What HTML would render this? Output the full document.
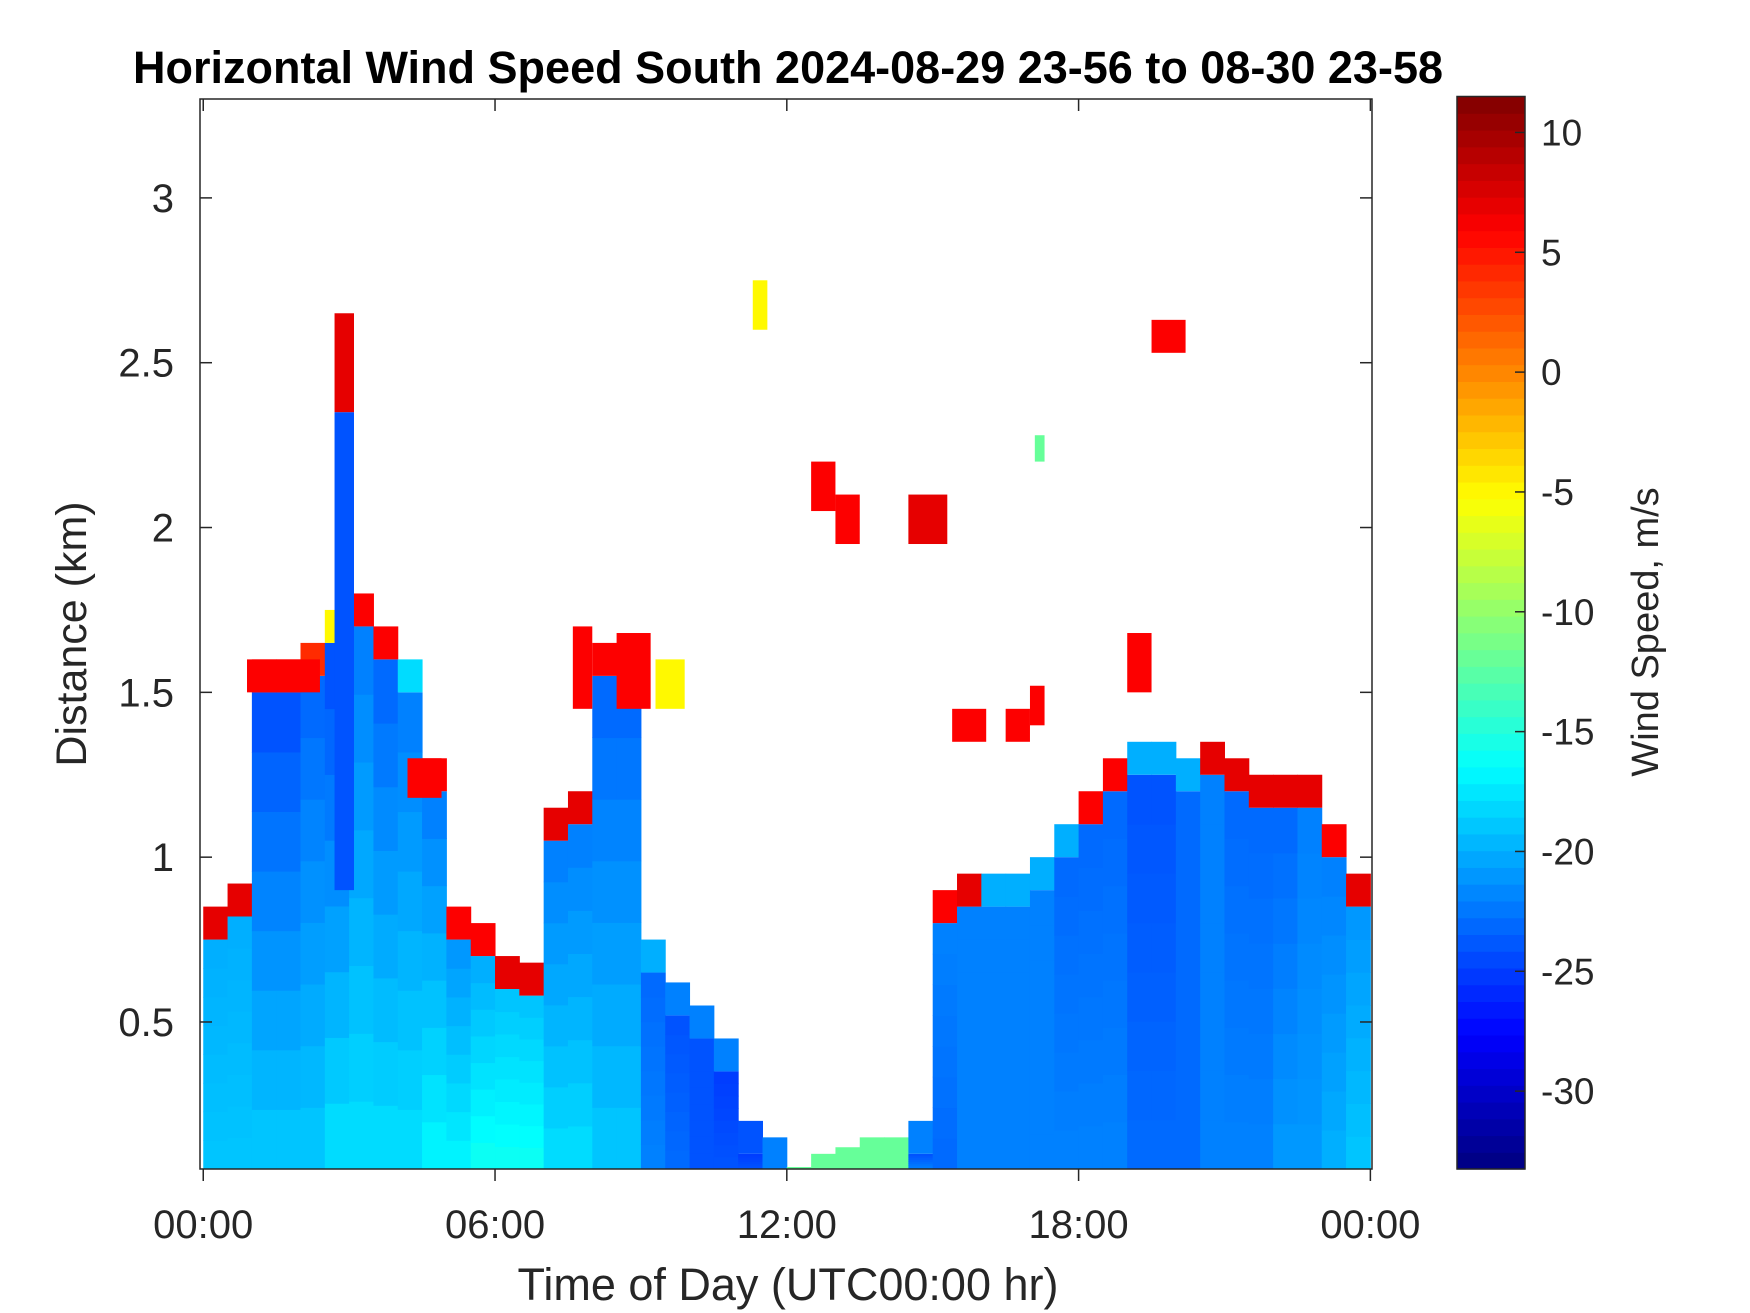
<!DOCTYPE html>
<html><head><meta charset="utf-8"><style>
html,body{margin:0;padding:0;background:#fff}
svg{display:block;font-family:"Liberation Sans",sans-serif}
</style></head><body>
<svg id="chart" width="1750" height="1313" viewBox="0 0 1750 1313">
<text x="788" y="83" text-anchor="middle" font-size="45" font-weight="bold" fill="#000">Horizontal Wind Speed South 2024-08-29 23-56 to 08-30 23-58</text>
<g id="heat"></g>
<rect x="200" y="99" width="1172" height="1070" fill="none" stroke="#262626" stroke-width="1.5"/>
<g id="axes"></g>
<text x="788" y="1300" text-anchor="middle" font-size="45" fill="#262626">Time of Day (UTC00:00 hr)</text>
<text transform="translate(86,634) rotate(-90)" text-anchor="middle" font-size="43" fill="#262626">Distance (km)</text>
<g id="cbar"></g>
<text transform="translate(1658,632) rotate(-90)" text-anchor="middle" font-size="38" fill="#262626">Wind Speed, m/s</text>
</svg>
<script>
// ---- data ----
const halfHours = [0,0.5,1,1.5,2,2.5,3,3.5,4,4.5,5,5.5,6,6.5,7,7.5,8,8.5,9,9.5,10,10.5,11,11.5,12,12.5,13,13.5,14,14.5,15,15.5,16,16.5,17,17.5,18,18.5,19,19.5,20,20.5,21,21.5,22,22.5,23,23.5];
const ceilings = [0.85,0.92,1.6,1.6,1.65,1.75,1.8,1.7,1.6,1.3,0.85,0.8,0.7,0.68,1.15,1.2,1.65,1.65,0.75,0.62,0.55,0.45,0.2,0.15,0.06,0.1,0.12,0.15,0.15,0.2,0.9,0.95,0.95,0.95,1.0,1.1,1.2,1.3,1.35,1.35,1.3,1.35,1.3,1.25,1.25,1.25,1.1,0.95];
const capSpeed = [7,7,6,6,4,-5,6,6,-18,6,6,6,7,7,7,7,6,6,-20,-22,-22,-22,-24,-22,-12,-12,-12,-12,-12,-22,6,7,-20,-20,-20,-20,6,6,-20,-20,-20,7,7,7,7,7,6,7];
const upperSpeed = [-20,-20,-24,-24,-23,-24,-22,-23,-22,-22,-21,-20,-19,-19,-22,-22,-23,-23,-23,-24,-24,-25,-25,-25,-24,-24,-24,-24,-24,-24,-22,-22,-22,-22,-22,-23,-23,-23,-24,-24,-23,-22,-23,-23,-23,-22,-22,-21];
const groundSpeed = [-19,-19,-19,-19,-19,-18,-18,-18,-18,-17,-17,-16,-16,-16,-18,-18,-19,-19,-22,-23,-24,-24,-24,-24,-12,-13,-12,-13,-13,-22,-23,-22,-22,-22,-22,-22,-22,-22,-23,-23,-23,-22,-22,-22,-21,-21,-20,-19];
// isolated blobs: start hour, end hour, z bottom km, z top km, speed
const blobT0 = [2.7,2.7,12.5,13.0,14.5,15.4,16.5,17.0,19.0,19.5,11.3,17.1,0.9,4.2,7.6,8.5,9.3];
const blobT1 = [3.1,3.1,13.0,13.5,15.3,16.1,17.0,17.3,19.5,20.2,11.6,17.3,2.4,4.9,8.0,9.2,9.9];
const blobZ0 = [0.9,2.35,2.05,1.95,1.95,1.35,1.35,1.4,1.5,2.53,2.6,2.2,1.5,1.18,1.45,1.45,1.45];
const blobZ1 = [2.35,2.65,2.2,2.1,2.1,1.45,1.45,1.52,1.68,2.63,2.75,2.28,1.6,1.3,1.7,1.68,1.6];
const blobV = [-24,7,6,6,7,6,6,6,6,6,-5,-12,6,6,6,6,-5];
const yTicks = [0.5,1,1.5,2,2.5,3];
const xTicks = [0,6,12,18,24];
const xTickLabels = ["00:00","06:00","12:00","18:00","00:00"];
const cTicks = [10,5,0,-5,-10,-15,-20,-25,-30];
// ---- scales ----
const X0=200,X1=1372,Y0=99,Y1=1169;
const tMin=-4/60,tMax=24+2/60,zMin=0.054,zMax=3.30,cMin=-33.25,cMax=11.5;
const xs=t=>X0+(t-tMin)/(tMax-tMin)*(X1-X0);
const ys=z=>Y1-(z-zMin)/(zMax-zMin)*(Y1-Y0);
function jet(v){let x=(v-cMin)/(cMax-cMin);x=Math.max(0,Math.min(1,x));
 const f=a=>Math.round(255*Math.max(0,Math.min(1,1.5-Math.abs(4*x-a))));
 return `rgb(${f(3)},${f(2)},${f(1)})`;}
const NS="http://www.w3.org/2000/svg";
function mk(p,tag,at){const e=document.createElementNS(NS,tag);for(const k in at)e.setAttribute(k,at[k]);p.appendChild(e);return e;}
const heat=document.getElementById('heat');
halfHours.forEach((h,i)=>{
  const t0=Math.max(h,tMin),t1=Math.min(h+0.5,tMax);
  const top=ceilings[i],capB=Math.max(zMin,top-0.1);
  const nseg=8;
  for(let k=0;k<nseg;k++){
    const za=zMin+(capB-zMin)*k/nseg,zb=zMin+(capB-zMin)*(k+1)/nseg;
    const v=groundSpeed[i]+(upperSpeed[i]-groundSpeed[i])*k/(nseg-1);
    const r=mk(heat,'rect',{x:xs(t0),y:ys(zb),width:xs(t1)-xs(t0)+0.5,height:ys(za)-ys(zb)+0.5,fill:jet(v)});
    
    
  }
  if(top>zMin){
    const r=mk(heat,'rect',{x:xs(t0),y:ys(top),width:xs(t1)-xs(t0)+0.5,height:ys(capB)-ys(top),fill:jet(capSpeed[i])});
    
    
  }
});
blobV.forEach((v,i)=>{
  const r=mk(heat,'rect',{x:xs(blobT0[i]),y:ys(blobZ1[i]),width:xs(blobT1[i])-xs(blobT0[i]),height:ys(blobZ0[i])-ys(blobZ1[i]),fill:jet(v)});
  
  
});
const ax=document.getElementById('axes');
yTicks.forEach(z=>{
  const y=ys(z);
  const a=mk(ax,'line',{x1:X0,x2:X0+12,y1:y,y2:y,stroke:'#262626','stroke-width':1.5});
  
  
  const b=mk(ax,'line',{x1:X1-12,x2:X1,y1:y,y2:y,stroke:'#262626','stroke-width':1.5});
  
  
  const t=mk(ax,'text',{x:X0-26,y:y+14,'text-anchor':'end','font-size':40,fill:'#262626'});
  t.textContent=String(z);
  
  
});
xTicks.forEach((h,i)=>{
  const x=xs(h);
  const a=mk(ax,'line',{x1:x,x2:x,y1:Y1,y2:Y1+12,stroke:'#262626','stroke-width':1.5});
  
  
  const b=mk(ax,'line',{x1:x,x2:x,y1:Y0,y2:Y0+12,stroke:'#262626','stroke-width':1.5});
  
  
  const t=mk(ax,'text',{x:x,y:1238,'text-anchor':'middle','font-size':40,fill:'#262626'});
  t.textContent=xTickLabels[i];
  
  
});
// colorbar
const cb=document.getElementById('cbar');
const CX0=1457,CX1=1525,CY0=96.5,CY1=1169;
const cy=v=>CY1-(v-cMin)/(cMax-cMin)*(CY1-CY0);
const N=64;
for(let k=0;k<N;k++){
  const va=cMin+(cMax-cMin)*k/N,vb=cMin+(cMax-cMin)*(k+1)/N;
  const r=mk(cb,'rect',{x:CX0,y:cy(vb),width:CX1-CX0,height:cy(va)-cy(vb)+0.6,fill:jet((va+vb)/2)});
  
  
}
const fr=mk(cb,'rect',{x:CX0,y:CY0,width:CX1-CX0,height:CY1-CY0,fill:'none',stroke:'#262626','stroke-width':1.5});


cTicks.forEach(v=>{
  const y=cy(v);
  const a=mk(cb,'line',{x1:CX1-10,x2:CX1,y1:y,y2:y,stroke:'#262626','stroke-width':1.5});
  
  
  const t=mk(cb,'text',{x:CX1+16,y:y+13,'font-size':37,fill:'#262626'});
  t.textContent=String(v);
  
  
});
</script>
</body></html>
